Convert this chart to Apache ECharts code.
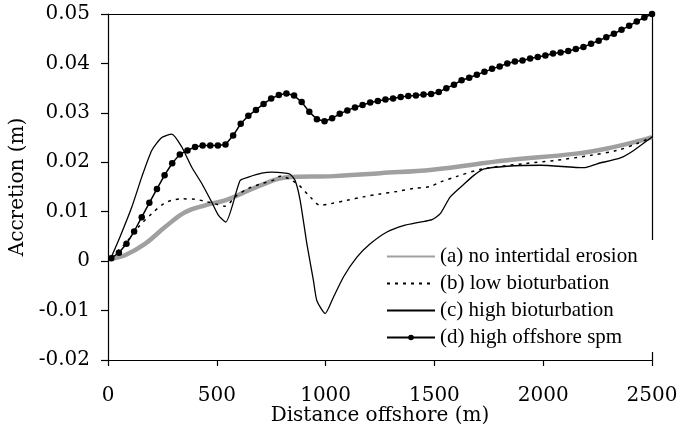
<!DOCTYPE html>
<html>
<head>
<meta charset="utf-8">
<script src="https://cdn.jsdelivr.net/npm/echarts@6/dist/echarts.min.js"></script>
<style>
  html, body { margin: 0; padding: 0; background: #fff; }
  #chart { width: 682px; height: 435px; }
</style>
</head>
<body>
<div id="chart"></div>
<script>
// series names as in the legend
const seriesNames = [
    '(a) no intertidal erosion',
    '(b) low bioturbation',
    '(c) high bioturbation',
    '(d) high offshore spm'
];

// (a) no intertidal erosion
const distA = [15, 78, 170, 262, 354, 446, 538, 630, 722, 814, 1036, 1252, 1490, 1834, 2141, 2294, 2448, 2500];
const accrA = [0.0005, 0.0012, 0.0035, 0.0069, 0.0099, 0.0113, 0.0123, 0.0140, 0.0157, 0.0169, 0.0172, 0.0178, 0.0185, 0.0204, 0.0217, 0.0228, 0.0244, 0.0251];

// (b) low bioturbation
const distB = [15, 78, 140, 201, 255, 293, 339, 400, 446, 492, 538, 584, 645, 707, 768, 791, 868, 929, 975, 1021, 1098, 1174, 1251, 1328, 1404, 1481, 1527, 1600, 1725, 1908, 2061, 2217, 2340, 2432, 2500];
const accrB = [0.0008, 0.0035, 0.0069, 0.0096, 0.0116, 0.0123, 0.0126, 0.0125, 0.0121, 0.0116, 0.0111, 0.0130, 0.0147, 0.0157, 0.0165, 0.0172, 0.0157, 0.0130, 0.0113, 0.0116, 0.0123, 0.0130, 0.0136, 0.0141, 0.0147, 0.0151, 0.0160, 0.0171, 0.0187, 0.0197, 0.0204, 0.0214, 0.0224, 0.0238, 0.0251];

// (c) high bioturbation
const distC = [15, 55, 109, 155, 201, 247, 293, 339, 385, 431, 477, 507, 541, 607, 645, 707, 753, 814, 837, 860, 883, 914, 944, 960, 998, 1036, 1082, 1144, 1205, 1282, 1358, 1435, 1489, 1527, 1573, 1634, 1680, 1725, 1834, 1987, 2186, 2248, 2355, 2416, 2500];
const accrC = [0.0008, 0.0049, 0.0109, 0.0170, 0.0224, 0.0250, 0.0257, 0.0231, 0.0190, 0.0157, 0.0119, 0.0093, 0.0079, 0.0163, 0.0170, 0.0178, 0.0180, 0.0178, 0.0176, 0.0163, 0.0123, 0.0035, -0.0039, -0.0080, -0.0106, -0.0073, -0.0032, 0.0008, 0.0035, 0.0059, 0.0072, 0.0079, 0.0084, 0.0096, 0.0130, 0.0155, 0.0173, 0.0186, 0.0192, 0.0194, 0.0189, 0.0197, 0.0209, 0.0224, 0.0251];

// (d) high offshore spm
const distD = [15, 50, 85, 120, 155, 190, 225, 260, 295, 330, 365, 400, 435, 470, 505, 540, 575, 610, 645, 680,
    715, 750, 785, 820, 855, 890, 925, 960, 995, 1030, 1065, 1100, 1135, 1170, 1205, 1240, 1275, 1310, 1345, 1380,
    1415, 1450, 1485, 1520, 1555, 1590, 1625, 1660, 1695, 1730, 1765, 1800, 1835, 1870, 1905, 1940, 1975, 2010, 2045, 2080,
    2115, 2150, 2185, 2220, 2255, 2290, 2325, 2360, 2395, 2430, 2465, 2500];
const accrD = [0.0006, 0.0017, 0.0035, 0.0060, 0.0089, 0.0118, 0.0146, 0.0174, 0.0198, 0.0216,
    0.0224, 0.0231, 0.0234, 0.0234, 0.0234, 0.0236, 0.0254, 0.0278, 0.0294, 0.0306,
    0.0318, 0.0329, 0.0336, 0.0339, 0.0335, 0.0322, 0.0302, 0.0287, 0.0283, 0.0289,
    0.0298, 0.0305, 0.0311, 0.0316, 0.0321, 0.0324, 0.0327, 0.0329, 0.0332, 0.0334,
    0.0335, 0.0337, 0.0338, 0.0342, 0.0350, 0.0357, 0.0366, 0.0371, 0.0377, 0.0383,
    0.0389, 0.0394, 0.0400, 0.0404, 0.0406, 0.0410, 0.0413, 0.0416, 0.0420, 0.0422,
    0.0425, 0.0429, 0.0433, 0.0440, 0.0446, 0.0453, 0.0460, 0.0468, 0.0476, 0.0485,
    0.0493, 0.0500];

function pairs(xs, ys) {
    return xs.map(function (x, i) { return [x, ys[i]]; });
}

const serifFont = 'DejaVu Serif';
const axisLineStyle = { color: '#000', width: 1.2 };

const chart = echarts.init(document.getElementById('chart'), null, { renderer: 'canvas' });

// legend: only (d) keeps its dot, the others show just the line
const legendItems = seriesNames.map(function (name, i) {
    return i === 3 ? { name: name } : { name: name, itemStyle: { opacity: 0 } };
});

const option = {
    backgroundColor: '#fff',
    animation: false,
    grid: {
        left: 108,
        right: 30,
        top: 14,
        bottom: 75,
        containLabel: false,
        outerBoundsMode: 'none'
    },
    legend: {
        orient: 'vertical',
        left: 380,
        top: 240,
        padding: [6, 20, 4, 6],
        backgroundColor: '#fff',
        itemWidth: 48,
        itemHeight: 7,
        itemGap: 6,
        data: legendItems,
        textStyle: {
            fontFamily: 'Liberation Serif',
            fontSize: 21,
            color: '#000'
        }
    },
    xAxis: [
        {
            type: 'value',
            position: 'bottom',
            min: 0,
            max: 2500,
            interval: 500,
            name: 'Distance offshore (m)',
            nameLocation: 'middle',
            nameGap: 46,
            nameMoveOverlap: false,
            nameTextStyle: { fontFamily: serifFont, fontSize: 20, color: '#000' },
            axisLine: { onZero: false, lineStyle: axisLineStyle },
            axisTick: { show: true, inside: false, length: 6, lineStyle: axisLineStyle },
            axisLabel: {
                fontFamily: serifFont,
                fontSize: 20,
                color: '#000',
                margin: 26,
                formatter: function (v) { return String(v); }
            },
            splitLine: { show: false }
        },
        {
            type: 'value',
            position: 'top',
            min: 0,
            max: 2500,
            axisLine: { show: true, onZero: false, lineStyle: axisLineStyle },
            axisTick: { show: false },
            axisLabel: { show: false },
            splitLine: { show: false }
        }
    ],
    yAxis: [
        {
            type: 'value',
            position: 'left',
            min: -0.02,
            max: 0.05,
            interval: 0.01,
            name: 'Accretion (m)',
            nameLocation: 'middle',
            nameRotate: 90,
            nameGap: 80,
            nameTextStyle: { fontFamily: serifFont, fontSize: 20, color: '#000' },
            axisLine: { show: true, onZero: false, lineStyle: axisLineStyle },
            axisTick: { show: true, inside: false, length: 7, lineStyle: axisLineStyle },
            axisLabel: {
                fontFamily: serifFont,
                fontSize: 20,
                color: '#000',
                margin: 18,
                formatter: function (v) {
                    return String(Number(v.toFixed(2)));
                }
            },
            splitLine: { show: false }
        },
        {
            type: 'value',
            position: 'right',
            min: -0.02,
            max: 0.05,
            axisLine: { show: true, onZero: false, lineStyle: axisLineStyle },
            axisTick: { show: false },
            axisLabel: { show: false },
            splitLine: { show: false }
        }
    ],
    series: [
        {
            name: seriesNames[0],
            type: 'line',
            data: pairs(distA, accrA),
            smooth: 0.4,
            symbol: 'none',
            lineStyle: { color: '#a0a0a0', width: 4.5 },
            itemStyle: { color: '#a0a0a0' },
            z: 2
        },
        {
            name: seriesNames[1],
            type: 'line',
            data: pairs(distB, accrB),
            smooth: 0.3,
            symbol: 'none',
            lineStyle: { color: '#000', width: 1.5, type: [3, 5] },
            itemStyle: { color: '#000' },
            z: 3
        },
        {
            name: seriesNames[2],
            type: 'line',
            data: pairs(distC, accrC),
            smooth: 0.2,
            symbol: 'none',
            lineStyle: { color: '#000', width: 1.3 },
            itemStyle: { color: '#000' },
            z: 4
        },
        {
            name: seriesNames[3],
            type: 'line',
            data: pairs(distD, accrD),
            symbol: 'circle',
            symbolSize: 6.5,
            showAllSymbol: true,
            lineStyle: { color: '#000', width: 1.5 },
            itemStyle: { color: '#000' },
            z: 5
        }
    ]
};

chart.setOption(option);
</script>
</body>
</html>
